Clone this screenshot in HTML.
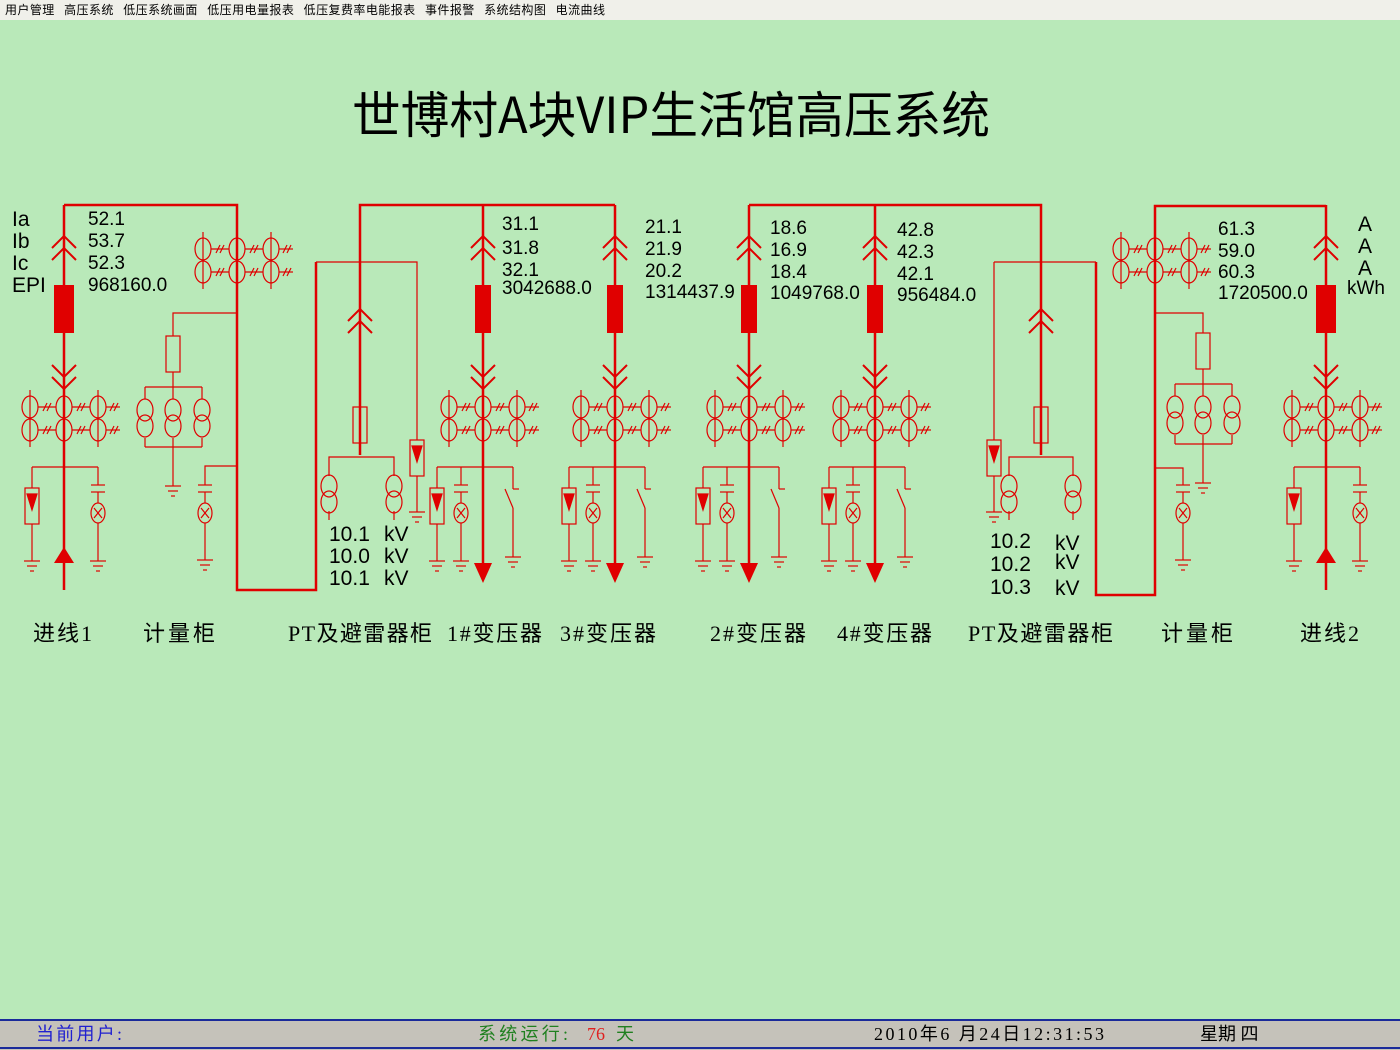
<!DOCTYPE html>
<html><head><meta charset="utf-8"><style>
html,body{margin:0;padding:0;width:1400px;height:1050px;overflow:hidden;background:#b9e9b9;}
svg{display:block}
text{white-space:pre}
</style></head><body>
<svg width="1400" height="1050" viewBox="0 0 1400 1050" xmlns="http://www.w3.org/2000/svg">
<defs>
<g id="gnd" stroke="#e00000" stroke-width="1.2"><line x1="-8" y1="0" x2="8" y2="0"/><line x1="-5" y1="5" x2="5" y2="5"/><line x1="-2" y1="10" x2="2" y2="10"/></g>
<g id="ctrow" fill="none" stroke="#e00000" stroke-width="1.2">
<ellipse cx="-34" cy="0" rx="8" ry="11"/><ellipse cx="0" cy="0" rx="8" ry="11"/><ellipse cx="34" cy="0" rx="8" ry="11"/>
<line x1="-26" y1="0" x2="-8" y2="0"/><line x1="8" y1="0" x2="26" y2="0"/><line x1="42" y1="0" x2="56" y2="0"/>
<line x1="-21" y1="4" x2="-17" y2="-4"/><line x1="-17" y1="4" x2="-13" y2="-4"/>
<line x1="13" y1="4" x2="17" y2="-4"/><line x1="17" y1="4" x2="21" y2="-4"/>
<line x1="46" y1="4" x2="50" y2="-4"/><line x1="50" y1="4" x2="54" y2="-4"/>
</g>
<g id="ct"><use href="#ctrow" y="0"/><use href="#ctrow" y="23"/>
<g stroke="#e00000" stroke-width="1.2"><line x1="-34" y1="-17" x2="-34" y2="40"/><line x1="34" y1="-17" x2="34" y2="40"/></g></g>
<g id="upch" fill="none" stroke="#e00000" stroke-width="2"><polyline points="-12,12 0,0 12,12"/><polyline points="-12,24 0,12 12,24"/></g>
<g id="dnch" fill="none" stroke="#e00000" stroke-width="2"><polyline points="-12,0 0,12 12,0"/><polyline points="-12,12 0,24 12,12"/></g>
<g id="arr" stroke="#e00000" stroke-width="1.2"><rect x="-7" y="0" width="14" height="36" fill="none"/><polygon points="-5,6 5,6 0,22" fill="#e00000"/></g>
<g id="ind" stroke="#e00000" stroke-width="1.2" fill="none"><line x1="-7" y1="0" x2="7" y2="0"/><line x1="-7" y1="7" x2="7" y2="7"/><line x1="0" y1="7" x2="0" y2="18"/><ellipse cx="0" cy="28" rx="7" ry="10"/><line x1="-4" y1="23" x2="4" y2="33"/><line x1="4" y1="23" x2="-4" y2="33"/></g>
<g id="pt2" fill="none" stroke="#e00000" stroke-width="1.2"><ellipse cx="0" cy="-8" rx="8" ry="11"/><ellipse cx="0" cy="8" rx="8" ry="11"/></g>
<g id="feeder">
<line x1="0" y1="205" x2="0" y2="575" stroke="#e00000" stroke-width="2.5"/>
<use href="#upch" y="236"/>
<rect x="-8" y="285" width="16" height="48" fill="#e00000"/>
<use href="#dnch" y="365"/>
<use href="#ct" y="407"/>
<g stroke="#e00000" stroke-width="1.2" fill="none">
<line x1="-46" y1="467" x2="30" y2="467"/>
<line x1="-46" y1="467" x2="-46" y2="488"/><line x1="-46" y1="524" x2="-46" y2="561"/>
<line x1="-22" y1="467" x2="-22" y2="485"/><line x1="-22" y1="523" x2="-22" y2="561"/>
<line x1="30" y1="467" x2="30" y2="489"/><line x1="30" y1="489" x2="36" y2="489"/><line x1="22" y1="489" x2="30" y2="508"/><line x1="30" y1="508" x2="30" y2="557"/>
</g>
<use href="#arr" x="-46" y="488"/><use href="#ind" x="-22" y="485"/>
<use href="#gnd" x="-46" y="561"/><use href="#gnd" x="-22" y="561"/><use href="#gnd" x="30" y="557"/>
<polygon points="-9,563 9,563 0,583" fill="#e00000"/>
</g>
<g id="incomer">
<line x1="0" y1="205" x2="0" y2="590" stroke="#e00000" stroke-width="2.5"/>
<use href="#upch" y="236"/>
<rect x="-10" y="285" width="20" height="48" fill="#e00000"/>
<use href="#dnch" y="365"/>
<use href="#ct" y="407"/>
<g stroke="#e00000" stroke-width="1.2" fill="none">
<line x1="-32" y1="467" x2="34" y2="467"/>
<line x1="-32" y1="467" x2="-32" y2="488"/><line x1="-32" y1="524" x2="-32" y2="561"/>
<line x1="34" y1="467" x2="34" y2="485"/><line x1="34" y1="523" x2="34" y2="561"/>
</g>
<use href="#arr" x="-32" y="488"/><use href="#ind" x="34" y="485"/>
<use href="#gnd" x="-32" y="561"/><use href="#gnd" x="34" y="561"/>
<polygon points="-10,563 10,563 0,547" fill="#e00000"/>
</g>
<g id="meter">
<g stroke="#e00000" stroke-width="1.2" fill="none">
<rect x="-7" y="0" width="14" height="36"/><line x1="0" y1="36" x2="0" y2="51"/>
<line x1="-28" y1="51" x2="29" y2="51"/>
<line x1="-28" y1="51" x2="-28" y2="63"/><line x1="0" y1="51" x2="0" y2="63"/><line x1="29" y1="51" x2="29" y2="63"/>
<line x1="-28" y1="102" x2="-28" y2="111"/><line x1="29" y1="102" x2="29" y2="111"/>
<line x1="-28" y1="111" x2="29" y2="111"/><line x1="0" y1="102" x2="0" y2="150"/>
</g>
<use href="#pt2" x="-28" y="82"/><use href="#pt2" x="0" y="82"/><use href="#pt2" x="29" y="82"/>
<use href="#gnd" x="0" y="150"/>
</g>
</defs>

<rect x="0" y="0" width="1400" height="20" fill="#f0f0ea"/>
<text x="5" y="14" font-family="'WenQuanYi Zen Hei','Noto Sans CJK SC',sans-serif" font-size="12" fill="#000" textLength="600" lengthAdjust="spacing">用户管理   高压系统   低压系统画面   低压用电量报表   低压复费率电能报表   事件报警   系统结构图   电流曲线</text>

<text x="352" y="133" font-family="'WenQuanYi Zen Hei','Noto Sans CJK SC',sans-serif" font-size="50" fill="#000" textLength="638" lengthAdjust="spacingAndGlyphs">世博村A块VIP生活馆高压系统</text>

<g stroke="#e00000" stroke-width="2.5" fill="none">
<polyline points="64,205 237,205 237,590 316,590 316,262"/>
<polyline points="360,455 360,205 615,205"/>
<polyline points="749,205 1041,205 1041,455"/>
<polyline points="1096,262 1096,595 1155,595 1155,206 1326,206"/>
</g>
<g stroke="#e00000" stroke-width="1.2" fill="none">
<polyline points="316,262 417,262 417,440"/>
<line x1="417" y1="476" x2="417" y2="512"/>
<polyline points="994,262 1096,262"/>
<polyline points="994,262 994,440"/>
<line x1="994" y1="476" x2="994" y2="512"/>
</g>

<use href="#incomer" x="64"/>
<use href="#incomer" x="1326"/>
<use href="#feeder" x="483"/>
<use href="#feeder" x="615"/>
<use href="#feeder" x="749"/>
<use href="#feeder" x="875"/>

<use href="#ct" x="237" y="249"/>
<g stroke="#e00000" stroke-width="1.2" fill="none"><polyline points="237,313 173,313 173,336"/><polyline points="237,466 205,466 205,485"/><line x1="205" y1="523" x2="205" y2="560"/></g>
<use href="#meter" x="173" y="336"/>
<use href="#ind" x="205" y="485"/><use href="#gnd" x="205" y="560"/>

<use href="#ct" x="1155" y="249"/>
<g stroke="#e00000" stroke-width="1.2" fill="none"><polyline points="1155,313 1203,313 1203,333"/><polyline points="1155,468 1183,468 1183,485"/><line x1="1183" y1="523" x2="1183" y2="560"/></g>
<use href="#meter" x="1203" y="333"/>
<use href="#ind" x="1183" y="485"/><use href="#gnd" x="1183" y="560"/>

<use href="#upch" x="360" y="309"/>
<g stroke="#e00000" stroke-width="1.2" fill="none"><rect x="353" y="407" width="14" height="36"/><polyline points="329,476 329,457 394,457 394,476"/><line x1="329" y1="511" x2="329" y2="520"/><line x1="394" y1="511" x2="394" y2="520"/></g>
<use href="#pt2" x="329" y="494"/><use href="#pt2" x="394" y="494"/>
<use href="#arr" x="417" y="440"/><use href="#gnd" x="417" y="512"/>

<use href="#upch" x="1041" y="309"/>
<g stroke="#e00000" stroke-width="1.2" fill="none"><rect x="1034" y="407" width="14" height="36"/><polyline points="1009,476 1009,457 1073,457 1073,476"/><line x1="1009" y1="511" x2="1009" y2="520"/><line x1="1073" y1="511" x2="1073" y2="520"/></g>
<use href="#pt2" x="1009" y="494"/><use href="#pt2" x="1073" y="494"/>
<use href="#arr" x="994" y="440"/><use href="#gnd" x="994" y="512"/>

<g font-family="'Liberation Sans',sans-serif" font-size="19" fill="#000">
<text x="12" y="226" font-size="21">Ia</text><text x="12" y="248" font-size="21">Ib</text><text x="12" y="270" font-size="21">Ic</text><text x="12" y="292" font-size="21">EPI</text>
<text x="88" y="225">52.1</text><text x="88" y="247">53.7</text><text x="88" y="269">52.3</text><text x="88" y="291">968160.0</text>
<text x="502" y="230">31.1</text><text x="502" y="254">31.8</text><text x="502" y="276">32.1</text><text x="502" y="294">3042688.0</text>
<text x="645" y="233">21.1</text><text x="645" y="255">21.9</text><text x="645" y="277">20.2</text><text x="645" y="298">1314437.9</text>
<text x="770" y="234">18.6</text><text x="770" y="256">16.9</text><text x="770" y="278">18.4</text><text x="770" y="299">1049768.0</text>
<text x="897" y="236">42.8</text><text x="897" y="258">42.3</text><text x="897" y="280">42.1</text><text x="897" y="301">956484.0</text>
<text x="1218" y="235">61.3</text><text x="1218" y="257">59.0</text><text x="1218" y="278">60.3</text><text x="1218" y="299">1720500.0</text>
<text x="1358" y="231" font-size="21">A</text><text x="1358" y="253" font-size="21">A</text><text x="1358" y="275" font-size="21">A</text><text x="1347" y="294">kWh</text>
<text x="329" y="541" font-size="21">10.1</text><text x="329" y="563" font-size="21">10.0</text><text x="329" y="585" font-size="21">10.1</text>
<text x="384" y="541" font-size="21">kV</text><text x="384" y="563" font-size="21">kV</text><text x="384" y="585" font-size="21">kV</text>
<text x="990" y="548" font-size="21">10.2</text><text x="990" y="571" font-size="21">10.2</text><text x="990" y="594" font-size="21">10.3</text>
<text x="1055" y="550" font-size="21">kV</text><text x="1055" y="569" font-size="21">kV</text><text x="1055" y="595" font-size="21">kV</text>
</g>

<g font-family="'Liberation Serif','WenQuanYi Zen Hei','Noto Sans CJK SC',sans-serif" font-size="22" fill="#000">
<text x="33" y="641" textLength="59">进线1</text><text x="143" y="641" textLength="72">计量柜</text><text x="288" y="641" textLength="144">PT及避雷器柜</text>
<text x="447" y="641" textLength="95">1#变压器</text><text x="560" y="641" textLength="96">3#变压器</text><text x="710" y="641" textLength="96">2#变压器</text>
<text x="837" y="641" textLength="95">4#变压器</text><text x="968" y="641" textLength="145">PT及避雷器柜</text><text x="1161" y="641" textLength="72">计量柜</text><text x="1300" y="641" textLength="59">进线2</text>
</g>

<rect x="0" y="1019" width="1400" height="31" fill="#c5c2ba"/>
<line x1="0" y1="1020" x2="1400" y2="1020" stroke="#1a2a9a" stroke-width="2"/>
<line x1="0" y1="1048" x2="1400" y2="1048" stroke="#1a2a9a" stroke-width="2"/>
<g font-family="'Liberation Serif','WenQuanYi Zen Hei','Noto Sans CJK SC',sans-serif" font-size="18">
<text x="36" y="1040" fill="#2020d0" textLength="86">当前用户:</text>
<text x="478" y="1040" fill="#208020" textLength="90">系统运行:</text><text x="587" y="1040" fill="#e02020">76</text><text x="616" y="1040" fill="#208020">天</text>
<text x="874" y="1040" fill="#000" textLength="230">2010年6 月24日12:31:53</text>
<text x="1200" y="1040" fill="#000">星期 四</text>
</g>
</svg>
</body></html>
